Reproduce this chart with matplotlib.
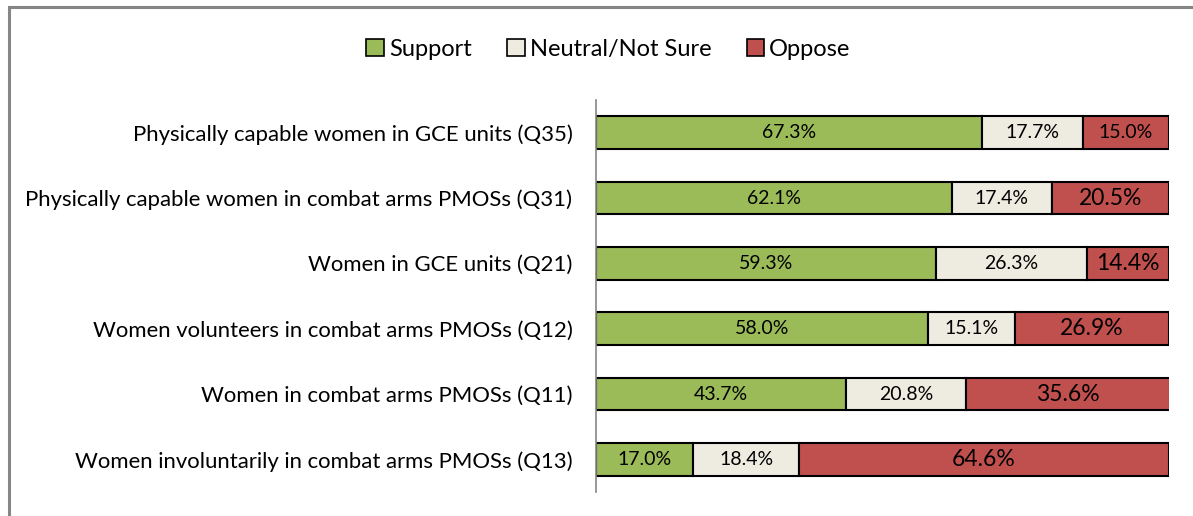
import matplotlib.pyplot as plt
from matplotlib.patches import Rectangle
import numpy as np

plt.rcParams['font.family'] = ['Lato', 'DejaVu Sans']

categories = [
    "Physically capable women in GCE units (Q35)",
    "Physically capable women in combat arms PMOSs (Q31)",
    "Women in GCE units (Q21)",
    "Women volunteers in combat arms PMOSs (Q12)",
    "Women in combat arms PMOSs (Q11)",
    "Women involuntarily in combat arms PMOSs (Q13)",
]
support = [67.3, 62.1, 59.3, 58.0, 43.7, 17.0]
neutral = [17.7, 17.4, 26.3, 15.1, 20.8, 18.4]
oppose = [15.0, 20.5, 14.4, 26.9, 35.6, 64.6]
series_names = ["Support", "Neutral/Not Sure", "Oppose"]
colors = ["#9BBB59", "#EEECE1", "#C0504D"]
# label font sizes for the oppose values (first one smaller in the original)
oppose_sizes = [14, 16.5, 16.5, 16.5, 16.5, 16.5]


def main():
    fig = plt.figure(figsize=(11.93, 5.16), dpi=100)
    ax = fig.add_axes([0.4996, 0.0465, 0.4803, 0.7597])

    y = np.arange(len(categories))
    left = np.zeros(len(categories))
    for name, vals, col in zip(series_names, [support, neutral, oppose], colors):
        vals = np.array(vals)
        ax.barh(y, vals, left=left, height=0.5, color=col, edgecolor="black",
                linewidth=1.5, label=name)
        for i, v in enumerate(vals):
            size = oppose_sizes[i] if name == "Oppose" else 14
            ax.text(left[i] + v / 2, y[i], f"{v:.1f}%", ha="center", va="center",
                    fontsize=size, color="black")
        left += vals

    ax.set_xlim(0, 100)
    ax.set_ylim(len(categories) - 0.5, -0.5)
    ax.set_yticks(y)
    ax.set_yticklabels(categories, fontsize=15.9)
    ax.tick_params(axis="y", length=0, pad=17)
    ax.set_xticks([])
    for s in ["top", "right", "bottom"]:
        ax.spines[s].set_visible(False)
    ax.spines["left"].set_color("#868686")
    ax.spines["left"].set_linewidth(1.2)

    leg = fig.legend(loc="center", bbox_to_anchor=(0.51, 0.905), ncol=3,
                     frameon=False, fontsize=17, handlelength=0.75,
                     handleheight=0.75, handletextpad=0.2, columnspacing=1.5)
    for h in leg.legend_handles:
        h.set_linewidth(1.2)

    # outer chart border (top and left visible)
    fig.patches.append(Rectangle((0.0072, -0.1), 1.2, 1.0865, transform=fig.transFigure,
                                 fill=False, edgecolor="#868686", linewidth=2.2))

    fig.savefig("out.png", dpi=100)


if __name__ == "__main__":
    main()
